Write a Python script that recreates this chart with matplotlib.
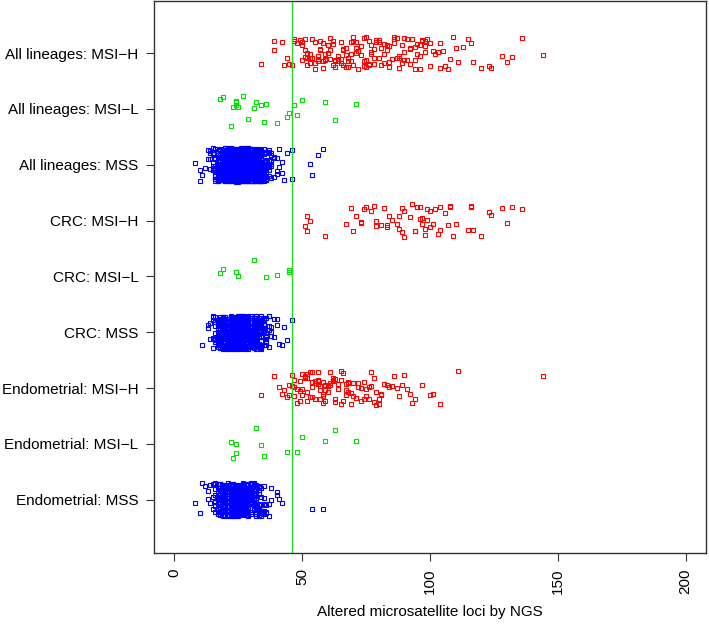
import numpy as np
import matplotlib
matplotlib.use("Agg")
from matplotlib import pyplot as plt

plt.rcParams['font.family'] = ['Liberation Sans', 'DejaVu Sans']

# group labels, bottom to top
groups = ["Endometrial: MSS", "Endometrial: MSI\u2212L", "Endometrial: MSI\u2212H",
          "CRC: MSS", "CRC: MSI\u2212L", "CRC: MSI\u2212H",
          "All lineages: MSS", "All lineages: MSI\u2212L", "All lineages: MSI\u2212H"]
status = ["MSS", "MSI-L", "MSI-H"] * 3

# MSS groups as value / count tables (too many points to list one by one)
endo_mss_vals = [8, 10, 11, 12, 13, 14, 15, 16, 17, 18, 19, 20, 21, 22, 23, 24, 25, 26, 27, 28,
                 29, 30, 31, 32, 33, 34, 35, 36, 37, 38, 40, 41, 42, 54, 58]
endo_mss_cnts = [1, 1, 1, 1, 2, 2, 4, 7, 12, 18, 24, 30, 33, 36, 37, 37, 37, 36, 34, 33,
                 30, 25, 21, 16, 11, 8, 5, 3, 2, 2, 2, 1, 1, 1, 1]
crc_mss_vals = [11, 13, 14, 15, 16, 17, 18, 19, 20, 21, 22, 23, 24, 25, 26, 27, 28, 29, 30, 31,
                32, 33, 34, 35, 36, 37, 38, 39, 40, 41, 42, 43, 44, 46]
crc_mss_cnts = [1, 2, 2, 5, 8, 14, 24, 33, 42, 48, 52, 55, 57, 57, 57, 55, 52, 48, 42, 37,
                30, 24, 18, 11, 8, 5, 3, 2, 2, 1, 1, 1, 1, 1]
all_mss_vals = [8, 10, 11, 12, 13, 14, 15, 16, 17, 18, 19, 20, 21, 22, 23, 24, 25, 26, 27, 28,
                29, 30, 31, 32, 33, 34, 35, 36, 37, 38, 39, 40, 41, 42, 43, 44, 46, 53, 54, 56, 58]
all_mss_cnts = [1, 2, 1, 1, 2, 4, 8, 14, 24, 36, 48, 60, 69, 75, 81, 84, 84, 84, 81, 78,
                72, 66, 57, 48, 39, 30, 21, 15, 9, 6, 4, 3, 2, 2, 1, 1, 2, 1, 1, 1, 1]

endo_msil = [22, 23, 24, 24, 32, 34, 35, 44, 48, 50, 59, 63, 71]
crc_msil = [18, 19, 24, 25, 31, 36, 40, 45, 45]
all_msil = [18, 19, 22, 23, 24, 24, 24, 25, 27, 29, 31, 32, 34, 35, 36, 40, 44, 45, 47, 48,
            50, 59, 63, 71]

endo_msih = [34, 39, 41, 42, 43, 44, 45, 45, 46, 46, 47, 47, 48, 48, 49, 49, 50, 50, 50, 51,
             51, 51, 52, 52, 52, 53, 53, 53, 54, 54, 54, 55, 55, 55, 56, 56, 56, 57, 57, 57,
             58, 58, 58, 59, 59, 60, 60, 60, 61, 61, 62, 62, 62, 63, 63, 64, 64, 65, 65, 66,
             66, 67, 67, 68, 68, 69, 69, 70, 70, 71, 72, 73, 74, 75, 75, 76, 77, 78, 78, 79,
             80, 80, 81, 82, 83, 84, 86, 87, 89, 90, 91, 93, 94, 97, 100, 101, 104, 111, 144,
             47, 49, 52, 54, 56, 58, 59, 61, 63, 64, 65, 67, 68, 70, 71, 72, 73, 74, 76, 77,
             79, 81, 85, 88, 92]
crc_msih = [51, 52, 52, 53, 59, 67, 69, 70, 71, 73, 73, 74, 75, 77, 78, 79, 79, 81, 82, 83,
            83, 84, 85, 87, 88, 88, 89, 89, 90, 90, 92, 93, 94, 94, 95, 96, 96, 97, 97, 98,
            98, 99, 99, 100, 100, 101, 102, 103, 104, 104, 106, 107, 108, 108, 109, 110, 115, 116, 116, 117,
            120, 123, 124, 128, 130, 132, 136]
all_msih = [34, 39, 39, 42, 43, 44, 45, 46, 47, 47, 48, 49, 50, 50, 51, 51, 52, 52, 53, 53,
            54, 54, 55, 55, 56, 56, 57, 57, 58, 58, 59, 59, 60, 60, 61, 61, 62, 62, 63, 63,
            64, 64, 65, 65, 66, 66, 67, 67, 68, 68, 69, 69, 70, 70, 71, 71, 72, 72, 73, 73,
            74, 74, 75, 75, 76, 76, 77, 77, 78, 78, 79, 79, 80, 80, 81, 81, 82, 82, 83, 83,
            84, 84, 85, 85, 86, 86, 87, 87, 88, 88, 89, 89, 90, 90, 91, 91, 92, 92, 93, 93,
            94, 94, 95, 95, 96, 96, 97, 97, 98, 98, 99, 100, 100, 101, 102, 103, 104, 105, 106, 107,
            108, 109, 110, 111, 113, 115, 116, 117, 120, 123, 124, 128, 130, 132, 136, 144,
            50, 51, 52, 53, 54, 55, 56, 57, 58, 59, 60, 61, 62, 63, 64, 65, 66, 67, 68, 69,
            70, 71, 72, 73, 74, 75, 76, 77, 78, 80, 82, 84, 86, 88, 90, 92, 94, 96, 98, 104]

cutoff = 46

data = [np.repeat(endo_mss_vals, endo_mss_cnts), endo_msil, endo_msih,
        np.repeat(crc_mss_vals, crc_mss_cnts), crc_msil, crc_msih,
        np.repeat(all_mss_vals, all_mss_cnts), all_msil, all_msih]
col = {"MSS": "#0000FF", "MSI-L": "#00DD00", "MSI-H": "#FF0000"}


def spread(n, k):
    # deterministic vertical spread in [-0.5, 0.5) from an integer hash (murmur3 finaliser)
    M = np.uint64(0xFFFFFFFF)
    h = (np.arange(n, dtype=np.uint64) + np.uint64(1000 * (k + 1))) & M
    h ^= h >> np.uint64(16)
    h = (h * np.uint64(0x85EBCA6B)) & M
    h ^= h >> np.uint64(13)
    h = (h * np.uint64(0xC2B2AE35)) & M
    h ^= h >> np.uint64(16)
    return h.astype(float) / 2.0 ** 32 - 0.5


fig = plt.figure(figsize=(7.09, 6.26), dpi=100)
ax = fig.add_axes([0.217, 0.117, 0.779, 0.881])

for k, vals in enumerate(data):
    vals = np.asarray(vals, dtype=float)
    off = spread(len(vals), k) * 0.6
    ax.plot(vals, k + 1 + off, 's', ms=3.5, mfc='none', mec=col[status[k]], mew=0.8)

ax.axvline(cutoff, color='#22DD22', lw=1.0)

ax.set_xlim(-8, 208)
ax.set_ylim(0.05, 9.93)
ax.set_xticks([0, 50, 100, 150, 200])
ax.set_xticklabels(['0', '50', '100', '150', '200'], rotation=90)
ax.set_yticks(range(1, 10))
ax.set_yticklabels(groups)
ax.tick_params(length=6, width=0.8, pad=5, labelsize=11, color='#333333')
for s in ax.spines.values():
    s.set_linewidth(1.0)
    s.set_color('#333333')
ax.set_xlabel("Altered microsatellite loci by NGS", fontsize=11, labelpad=8)

plt.savefig("out.png", dpi=100)
